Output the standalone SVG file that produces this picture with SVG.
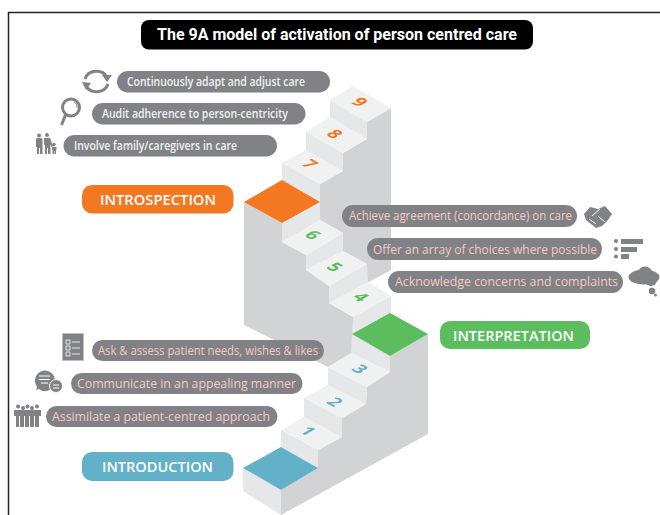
<svg xmlns="http://www.w3.org/2000/svg" width="660" height="515" viewBox="0 0 660 515">
<style>
.w{fill:#d1d3d4}.r{fill:#e6e7e8}.t{fill:#f0f1f1}
.p,.i{fill:#808285}
.s{fill:none;stroke:#808285}
.l{font:600 11.8px "Open Sans",sans-serif;fill:#f1f2f2}
.k{font:12.8px "Open Sans",sans-serif;fill:#f9c8c4}
.h{font:600 15px "Open Sans",sans-serif;fill:#fff;text-anchor:middle}
.n{font:700 17px "Open Sans",sans-serif;text-anchor:middle}
.o{fill:#f47721}.g{fill:#5cbd5f}.b{fill:#62b1c9}
</style>
<rect width="660" height="515" fill="#fff"/>
<path d="M8.500 515V12.500H660" fill="none" stroke="#222" stroke-width="1.500"/>
<g id="title"><rect x="141" y="20" width="392" height="29.500" rx="8" fill="#000"/><text x="337" y="40" text-anchor="middle" style="font:700 16px Roboto,sans-serif;fill:#fff">The 9A model of activation of person centred care</text></g>
<g id="stairs">
<path class="w" d="M391 108L367 122V139L343 153V171L320 184V220L343 233V251L367 264V283L391 270Z"/>
<path class="w" d="M244 202L282 223V242L306 255V270L329 286V303L353 317V334L352 353L328 367L244 325Z"/>
<path class="w" d="M281 515L428 434V334L390 356V372L367 387L366 404L342 418V437L318 450V468L281 490Z"/>
<path class="r" d="M243 468L281 490V515L243 491Z"/>
<path class="r" d="M281 430L318 450V468L281 447Z"/>
<path class="t" d="M281 430L304 417L342 437L318 450Z"/>
<path class="r" d="M304 398L342 418V437L304 417Z"/>
<path class="t" d="M304 398L328 385L366 404L342 418Z"/>
<path class="r" d="M328 367L367 387L366 404L328 385Z"/>
<path class="t" d="M328 367L351 353L389 372L367 387Z"/>
<path class="r" d="M352 334L390 356V372L351 353Z"/>
<path class="r" d="M353 317L391 296V313L352 334Z"/>
<path class="t" d="M329 303L368 282L391 296L353 317Z"/>
<path class="r" d="M329 286L367 264L368 282L329 303Z"/>
<path class="t" d="M306 270L343 251L367 264L329 286Z"/>
<path class="r" d="M306 255L343 233V251L306 270Z"/>
<path class="t" d="M282 242L320 220L343 233L306 255Z"/>
<path class="r" d="M282 223L320 202V220L282 242Z"/>
<path class="r" d="M282 163L320 184V202L282 180Z"/>
<path class="t" d="M282 163L306 150L343 171L320 184Z"/>
<path class="r" d="M306 132L343 153V171L306 150Z"/>
<path class="t" d="M306 132L330 117L367 139L343 153Z"/>
<path class="r" d="M330 100L367 122V139L330 117Z"/>
<path class="t" d="M330 100L353 86L391 108L367 122Z"/>
<path class="o" d="M244 202L282 180L320 202L282 223Z"/>
<path class="g" d="M352 334L390 313L428 334L390 356Z"/>
<path class="b" d="M243 468L281 447L318 468L281 490Z"/>
</g>
<g id="step-numbers">
<text class="n b" transform="translate(308 431) matrix(.866 .5 -.866 .5 0 0)" y="6">1</text>
<text class="n b" transform="translate(335 402) matrix(.866 .5 -.866 .5 0 0)" y="6">2</text>
<text class="n b" transform="translate(360 369) matrix(.866 .5 -.866 .5 0 0)" y="6">3</text>
<text class="n g" transform="translate(361 297) matrix(.866 .5 -.866 .5 0 0)" y="6">4</text>
<text class="n g" transform="translate(335 267) matrix(.866 .5 -.866 .5 0 0)" y="6">5</text>
<text class="n g" transform="translate(313 235) matrix(.866 .5 -.866 .5 0 0)" y="6">6</text>
<text class="n o" transform="translate(310 164) matrix(.866 .5 -.866 .5 0 0)" y="6">7</text>
<text class="n o" transform="translate(335 134) matrix(.866 .5 -.866 .5 0 0)" y="6">8</text>
<text class="n o" transform="translate(360 102) matrix(.866 .5 -.866 .5 0 0)" y="6">9</text>
</g>
<g id="introspection"><rect class="o" x="82" y="185" width="151.500" height="28.500" rx="10"/><text class="h" x="158" y="205" textLength="116" lengthAdjust="spacingAndGlyphs">INTROSPECTION</text></g>
<g id="interpretation"><rect class="g" x="440" y="321" width="150" height="28" rx="10"/><text class="h" x="513.500" y="341" textLength="121" lengthAdjust="spacingAndGlyphs">INTERPRETATION</text></g>
<g id="introduction"><rect class="b" x="82" y="452" width="151.500" height="29" rx="10"/><text class="h" x="157.500" y="472" textLength="111" lengthAdjust="spacingAndGlyphs">INTRODUCTION</text></g>
<g id="adapt"><rect class="p" x="117" y="71" width="213" height="21.500" rx="10.750"/><text class="l" x="127" y="86" textLength="178" lengthAdjust="spacingAndGlyphs">Continuously adapt and adjust care</text>
<path class="s" stroke-width="3" d="M85 79A12 11 0 0 1 107 77M108 84A12 11 0 0 1 86 86"/><path class="i" d="M102 76H112L107 83ZM82 83L91 84L86 91Z" transform="translate(0 -1)"/></g>
<g id="audit"><rect class="p" x="92" y="103" width="213.500" height="21.500" rx="10.750"/><text class="l" x="102" y="118" textLength="186" lengthAdjust="spacingAndGlyphs">Audit adherence to person-centricity</text>
<circle class="s" stroke-width="3" cx="71" cy="107.500" r="8.500"/><path class="s" stroke-width="3" d="M65.500 115L61.500 125"/><path class="s" d="M74 102A6 6 0 0 1 77 108"/></g>
<g id="involve"><rect class="p" x="63.500" y="135" width="213.500" height="21.500" rx="10.750"/><text class="l" x="74" y="150" textLength="163" lengthAdjust="spacingAndGlyphs">Involve family/caregivers in care</text>
<circle class="i" cx="39" cy="135.500" r="2"/><circle class="i" cx="47" cy="135" r="2"/><circle class="i" cx="54" cy="144.500" r="1.700"/>
<path class="i" d="M36 139Q36 138 38 138H41Q42.500 138 42.500 139.500V154H40V148H39V154H37V147H36ZM44 138H50L53 146L51.500 147L50.500 144V154H48V148H47V154H45V145H44Z"/><path class="i" d="M52 147H56.500V150H56V154H54.500V151H54V154H52.500V150H52Z"/></g>
<g id="achieve"><rect class="p" x="342" y="205" width="235" height="22" rx="11"/><text class="k" x="349" y="220" textLength="223" lengthAdjust="spacingAndGlyphs">Achieve agreement (concordance) on care</text>
<path class="i" d="M584 214L590 207L598 209L605 206L612 214L608 220L602 226L596 228L591 224L586 220Z"/><path fill="none" stroke="#fff" d="M592 216L600 209M589 219L596 224M598 216L605 222"/></g>
<g id="offer"><rect class="p" x="367" y="238" width="235" height="22" rx="11"/><text class="k" x="373" y="254" textLength="224" lengthAdjust="spacingAndGlyphs">Offer an array of choices where possible</text>
<circle class="i" cx="616" cy="241" r="2"/><circle class="i" cx="616" cy="249" r="2"/><circle class="i" cx="616" cy="256.500" r="2"/><path class="i" d="M621 239H643V244H621ZM621 247H637V252H621ZM621 254H629V259H621Z"/></g>
<g id="acknowledge"><rect class="p" x="388" y="271" width="235" height="22" rx="11"/><text class="k" x="395" y="286" textLength="223" lengthAdjust="spacingAndGlyphs">Acknowledge concerns and complaints</text>
<ellipse class="i" cx="644" cy="277" rx="15.500" ry="7.500"/><circle class="i" cx="645" cy="274" r="7.500"/><circle class="i" cx="651" cy="280" r="6"/><circle class="i" cx="652" cy="291" r="3.300"/><circle class="i" cx="655.500" cy="295" r="1.500"/></g>
<g id="ask"><rect class="p" x="92" y="340" width="232" height="21" rx="10.500"/><text class="k" x="98" y="355" textLength="220" lengthAdjust="spacingAndGlyphs">Ask &amp; assess patient needs, wishes &amp; likes</text>
<rect class="i" x="62.500" y="333.500" width="21" height="27" stroke="#bcbec0"/><path fill="none" stroke="#e6e7e8" d="M66 340H70V344H66ZM72 342H80M66 346H70V350H66ZM72 348H80M66 352H70V356H66ZM72 354H80"/></g>
<g id="communicate"><rect class="p" x="71" y="373" width="231.500" height="21" rx="10.500"/><text class="k" x="77" y="388" textLength="219" lengthAdjust="spacingAndGlyphs">Communicate in an appealing manner</text>
<path class="i" d="M35 381A10 10 0 0 1 55 380A10 10 0 0 1 39 389L36 390L37 387Q35 384 35 381Z"/><circle class="i" cx="56" cy="386" r="6.500" stroke="#fff"/><path stroke="#fff" d="M39 376H50M39 379.500H50M41 383H48M53 385H59M53 388H59"/></g>
<g id="assimilate"><rect class="p" x="46" y="406" width="231.500" height="21" rx="10.500"/><text class="k" x="52" y="421" textLength="218" lengthAdjust="spacingAndGlyphs">Assimilate a patient-centred approach</text>
<g class="i"><circle cx="18" cy="406.500" r="2"/><circle cx="23" cy="408" r="2"/><circle cx="27.500" cy="406.500" r="2"/><circle cx="32" cy="408" r="2"/><circle cx="37" cy="406.500" r="2"/>
<path d="M14 410H41V416H39V427H35V416H34V427H30V416H29V427H25V416H24V427H20V416H19V427H16V416H14Z"/></g></g>
</svg>
